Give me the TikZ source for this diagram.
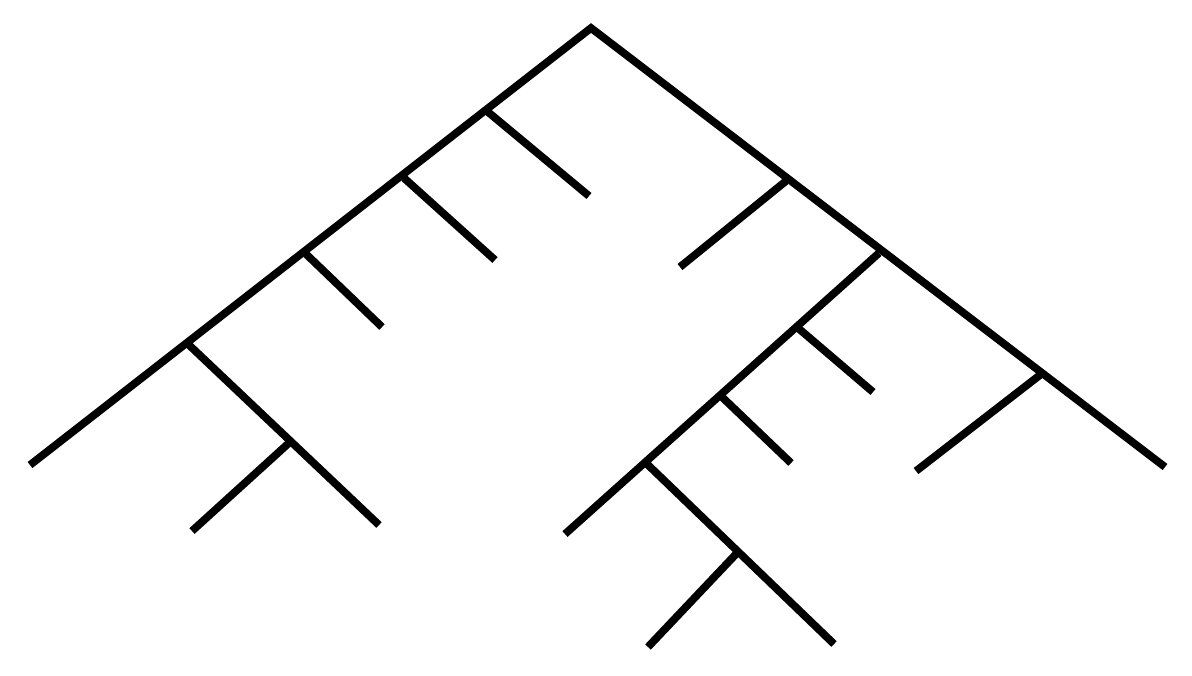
\documentclass[tikz,border=0pt]{standalone}
\begin{document}
\begin{tikzpicture}[x=0.01cm,y=-0.01cm,branch/.style={line width=2.2pt, line join=miter}]
\useasboundingbox (0,0) rectangle (1192,675);
% left part
\coordinate (root) at (591,28);
\coordinate (ll) at (30,465);
\coordinate (a1) at (488,112);
\coordinate (a2) at (404,178);
\coordinate (a3) at (306,254);
\coordinate (a4) at (188,344);
\coordinate (a5) at (290,442);
\coordinate (e1) at (589,196);
\coordinate (e2) at (495,260);
\coordinate (e3) at (382,327);
\coordinate (e4) at (379,525);
\coordinate (e5) at (192,531);
% right part
\coordinate (rr) at (1165,467);
\coordinate (b1) at (786,181);
\coordinate (b2) at (879,253);
\coordinate (b3) at (1040,375);
\coordinate (c1) at (798,328);
\coordinate (c2) at (722,397);
\coordinate (c3) at (646,463);
\coordinate (c4) at (737,553);
\coordinate (f1) at (680,267);
\coordinate (f2) at (565,534);
\coordinate (f3) at (873,392);
\coordinate (f4) at (791,463);
\coordinate (f5) at (834,644);
\coordinate (f6) at (648,647);
\coordinate (f7) at (916,471);
\draw[branch] (ll)--(root)--(rr);
\draw[branch] (a1)--(e1);
\draw[branch] (a2)--(e2);
\draw[branch] (a3)--(e3);
\draw[branch] (a4)--(e4);
\draw[branch] (a5)--(e5);
\draw[branch] (b1)--(f1);
\draw[branch] (b2)--(f2);
\draw[branch] (b3)--(f7);
\draw[branch] (c1)--(f3);
\draw[branch] (c2)--(f4);
\draw[branch] (c3)--(f5);
\draw[branch] (c4)--(f6);
\end{tikzpicture}
\end{document}
